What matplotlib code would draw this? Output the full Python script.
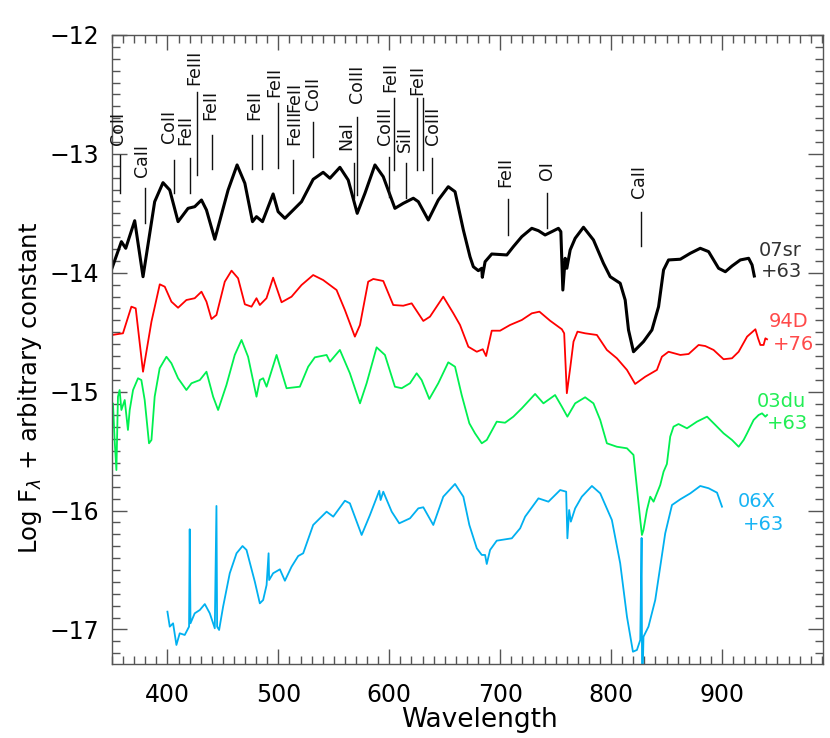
import matplotlib
matplotlib.use("Agg")
import matplotlib.pyplot as plt
from matplotlib.ticker import MultipleLocator

plt.rcParams['font.family'] = ['DejaVu Sans']
plt.rcParams['mathtext.fontset'] = 'dejavusans'

# ---------------- data ----------------
sn07sr_wl = [350.0, 358.5, 362.4, 370.5, 378.0, 388.5, 396.0, 402.1, 409.6, 418.6, 424.6, 430.7,
             435.2, 442.7, 454.7, 462.8, 469.8, 476.7, 480.3, 485.7, 495.3, 499.8, 505.9, 514.9,
             520.9, 531.4, 540.4, 546.5, 555.5, 563.0, 571.1, 578.1, 587.1, 594.6, 605.1, 612.6,
             621.7, 626.2, 635.2, 644.2, 653.2, 659.3, 666.8, 672.8, 675.8, 680.3, 683.4, 683.9,
             686.4, 692.4, 706.0, 711.9, 719.5, 728.5, 734.5, 740.5, 746.6, 752.5, 754.7, 756.5,
             758.6, 760.1, 763.1, 767.6, 775.1, 784.1, 793.1, 799.2, 808.2, 812.7, 815.7, 820.2,
             829.2, 836.8, 842.8, 847.3, 851.8, 862.4, 871.4, 880.4, 887.9, 896.9, 903.0, 909.0,
             916.5, 924.0, 927.1, 929.1]
sn07sr_flux = [-13.962, -13.738, -13.794, -13.562, -14.033, -13.402, -13.242, -13.304, -13.570,
               -13.458, -13.444, -13.388, -13.472, -13.718, -13.304, -13.093, -13.247, -13.570,
               -13.528, -13.570, -13.337, -13.486, -13.542, -13.458, -13.402, -13.214, -13.155,
               -13.205, -13.113, -13.220, -13.500, -13.331, -13.093, -13.192, -13.458, -13.416,
               -13.373, -13.402, -13.556, -13.388, -13.276, -13.318, -13.640, -13.865, -13.949,
               -13.982, -13.962, -14.038, -13.907, -13.842, -13.850, -13.780, -13.696, -13.626,
               -13.646, -13.682, -13.654, -13.626, -13.654, -14.145, -13.878, -13.962, -13.808,
               -13.710, -13.617, -13.724, -13.920, -14.033, -14.088, -14.229, -14.481, -14.664,
               -14.579, -14.481, -14.285, -13.976, -13.892, -13.886, -13.836, -13.794, -13.822,
               -13.962, -13.991, -13.943, -13.892, -13.878, -13.934, -14.027]

sn94D_wl = [350.0, 359.9, 367.5, 371.4, 378.0, 385.6, 393.1, 397.6, 403.6, 409.6, 417.1, 424.6,
            430.7, 435.2, 439.7, 444.2, 451.7, 457.8, 463.7, 469.8, 475.8, 480.3, 483.3, 489.3,
            495.3, 502.9, 511.9, 520.9, 531.4, 540.4, 552.5, 560.0, 569.0, 573.6, 581.0, 585.6,
            594.6, 603.6, 612.6, 620.2, 630.7, 636.7, 648.7, 657.8, 663.8, 671.3, 678.9, 684.3,
            687.3, 692.4, 699.9, 708.9, 719.5, 728.5, 735.4, 745.0, 755.6, 757.7, 760.1, 763.1,
            766.1, 769.7, 776.6, 787.2, 796.2, 805.2, 814.3, 821.7, 830.8, 841.3, 845.8, 851.8,
            862.4, 869.9, 878.9, 884.9, 892.4, 901.4, 909.0, 915.0, 922.6, 930.1, 932.5, 934.6,
            937.5, 939.1, 940.6]
sn94D_flux = [-14.523, -14.509, -14.285, -14.299, -14.832, -14.411, -14.097, -14.117, -14.243,
              -14.294, -14.229, -14.214, -14.159, -14.243, -14.389, -14.355, -14.075, -13.982,
              -14.046, -14.265, -14.285, -14.214, -14.271, -14.214, -14.041, -14.248, -14.201,
              -14.103, -14.019, -14.061, -14.145, -14.313, -14.537, -14.439, -14.075, -14.052,
              -14.069, -14.271, -14.277, -14.257, -14.405, -14.369, -14.201, -14.341, -14.439,
              -14.622, -14.664, -14.643, -14.700, -14.487, -14.487, -14.439, -14.397, -14.341,
              -14.327, -14.403, -14.475, -14.509, -15.013, -14.803, -14.579, -14.495, -14.509,
              -14.523, -14.649, -14.719, -14.817, -14.935, -14.874, -14.817, -14.706, -14.664,
              -14.691, -14.683, -14.607, -14.616, -14.649, -14.727, -14.719, -14.664, -14.537,
              -14.475, -14.551, -14.607, -14.607, -14.551, -14.559]

sn03du_wl = [350.0, 350.9, 352.4, 354.0, 355.4, 356.9, 358.5, 361.5, 364.4, 366.0, 369.0, 373.5,
             376.5, 379.5, 383.4, 385.6, 388.5, 393.0, 399.1, 403.6, 409.6, 417.1, 421.7, 429.2,
             435.2, 441.2, 445.7, 453.2, 460.7, 466.8, 472.7, 480.3, 483.3, 486.3, 489.4, 498.4,
             502.9, 507.4, 519.4, 526.9, 532.9, 543.5, 546.5, 555.5, 564.5, 573.6, 579.6, 588.6,
             596.1, 605.1, 611.2, 618.7, 624.7, 629.2, 636.1, 644.2, 653.2, 659.3, 665.3, 672.2,
             677.3, 683.4, 687.9, 696.9, 704.4, 711.9, 719.5, 731.5, 739.0, 749.5, 755.6, 760.6,
             767.6, 776.6, 784.1, 790.2, 796.2, 805.2, 814.3, 820.2, 823.3, 826.3, 827.8, 829.2,
             832.3, 835.3, 838.3, 841.3, 844.3, 847.3, 850.3, 853.3, 856.3, 860.8, 868.4, 877.4,
             886.5, 894.0, 901.4, 909.0, 915.0, 919.5, 922.6, 928.5, 933.0, 936.1, 939.1, 940.6]
sn03du_flux = [-15.112, -15.098, -15.406, -15.659, -15.042, -14.986, -15.154, -15.070, -15.322,
               -15.154, -14.986, -14.887, -14.902, -15.070, -15.434, -15.406, -15.042, -14.803,
               -14.706, -14.761, -14.887, -14.986, -14.929, -14.902, -14.832, -15.042, -15.154,
               -14.944, -14.691, -14.565, -14.706, -15.042, -14.902, -14.887, -14.958, -14.691,
               -14.832, -14.971, -14.958, -14.790, -14.711, -14.691, -14.748, -14.649, -14.845,
               -15.098, -14.929, -14.627, -14.691, -14.958, -14.971, -14.929, -14.845, -14.902,
               -15.061, -14.929, -14.753, -14.790, -15.028, -15.266, -15.350, -15.434, -15.406,
               -15.252, -15.261, -15.210, -15.140, -15.019, -15.098, -15.028, -15.126, -15.210,
               -15.098, -15.047, -15.098, -15.238, -15.434, -15.463, -15.476, -15.532, -15.810,
               -16.079, -16.205, -16.163, -15.995, -15.883, -15.925, -15.855, -15.785, -15.673,
               -15.608, -15.378, -15.294, -15.272, -15.308, -15.252, -15.210, -15.280, -15.350,
               -15.406, -15.463, -15.406, -15.350, -15.238, -15.196, -15.182, -15.210, -15.196]

sn06X_wl = [400.0, 402.1, 405.1, 408.1, 411.1, 415.6, 419.5, 420.1, 420.8, 424.6, 429.2, 433.7,
            438.2, 442.7, 444.2, 444.8, 446.6, 450.2, 456.2, 462.3, 467.7, 471.3, 478.8, 483.3,
            486.3, 489.4, 491.2, 491.7, 495.3, 501.4, 505.9, 511.9, 517.9, 522.4, 531.4, 543.5,
            549.5, 560.0, 564.5, 575.1, 582.6, 591.0, 592.2, 594.6, 602.2, 609.0, 618.7, 626.2,
            630.7, 639.7, 648.7, 659.3, 666.8, 672.2, 678.9, 683.4, 686.4, 687.9, 690.9, 696.9,
            710.5, 718.0, 722.5, 734.5, 743.5, 754.1, 759.5, 760.6, 762.2, 763.7, 767.6, 773.6,
            782.7, 790.2, 800.7, 808.2, 814.3, 819.7, 823.3, 826.3, 827.5, 828.0, 829.2, 833.7,
            839.8, 844.3, 848.8, 854.9, 862.4, 871.4, 880.4, 887.9, 895.5, 900.0]
sn06X_flux = [-16.850, -16.976, -16.948, -17.130, -17.032, -17.046, -16.976, -16.157, -16.948,
              -16.864, -16.836, -16.786, -16.864, -16.990, -15.961, -16.976, -17.004, -16.808,
              -16.527, -16.359, -16.298, -16.331, -16.598, -16.780, -16.752, -16.626, -16.359,
              -16.584, -16.527, -16.494, -16.590, -16.472, -16.382, -16.359, -16.121, -16.009,
              -16.051, -15.917, -15.939, -16.205, -16.037, -15.833, -15.911, -15.841, -16.009,
              -16.107, -16.065, -15.981, -15.972, -16.121, -15.883, -15.776, -15.883, -16.121,
              -16.317, -16.373, -16.373, -16.449, -16.331, -16.253, -16.233, -16.149, -16.051,
              -15.897, -15.925, -15.827, -15.841, -16.233, -15.995, -16.093, -15.981, -15.883,
              -15.793, -15.855, -16.079, -16.443, -16.892, -17.187, -17.172, -17.088, -16.230,
              -17.600, -17.061, -16.976, -16.752, -16.472, -16.191, -15.953, -15.905, -15.855,
              -15.793, -15.812, -15.849, -15.967]

# spectrum labels: name, epoch, anchor wavelength, name y, epoch y
spec_names = ["07sr", "94D", "03du", "06X"]
spec_epochs = ["+63", "+76", "+63", "+63"]
spec_label_x = [972.0, 978.0, 976.0, 948.0]
spec_epoch_x = [972.0, 983.0, 978.0, 956.0]
spec_name_y = [-13.81, -14.41, -15.08, -15.925]
spec_epoch_y = [-13.985, -14.607, -15.27, -16.12]

# line identifications
ann_labels = ["CoII", "CaII", "CoII", "FeII", "FeIII", "FeII", "FeII", "FeII", "FeIII", "FeII",
              "CoII", "NaI", "CoIII", "CoIII", "FeII", "SiII", "FeII", "CoIII", "FeII", "OI", "CaII"]
ann_text_x = [355.4, 377.4, 401.2, 416.5, 424.6, 438.2, 477.9, 495.9, 514.3, 514.3,
              531.4, 561.5, 570.6, 596.1, 600.6, 614.3, 625.0, 639.7, 704.4, 742.1, 825.6]
ann_text_y = [-12.925, -13.192, -12.908, -12.925, -12.421, -12.715, -12.715, -12.521, -12.925, -12.648,
              -12.631, -12.967, -12.572, -12.925, -12.479, -12.984, -12.505, -12.925, -13.278, -13.220, -13.371]
ann_line_x = [357.6, 379.5, 405.7, 420.8, 427.1, 440.6, 476.4, 485.7, 499.8, 512.8,
              531.4, 568.4, 570.8, 600.0, 604.2, 615.1, 624.7, 630.1, 638.3, 706.9, 742.6, 826.9]
ann_line_y0 = [-13.009, -13.287, -13.051, -13.034, -12.477, -12.841, -12.841, -12.841, -12.572, -13.051,
               -12.732, -13.077, -12.690, -13.026, -12.530, -13.077, -12.530, -12.530, -13.034, -13.379,
               -13.329, -13.489]
ann_line_y1 = [-13.329, -13.581, -13.329, -13.329, -13.177, -13.127, -13.127, -13.127, -13.119, -13.329,
               -13.026, -13.371, -13.346, -13.362, -13.135, -13.371, -13.135, -13.135, -13.329, -13.682,
               -13.623, -13.775]

x_ticks = [400, 500, 600, 700, 800, 900]
y_ticks = [-17, -16, -15, -14, -13, -12]

# ---------------- plot ----------------
fig = plt.figure(figsize=(8.3, 7.38), dpi=100)
ax = fig.add_axes([0.1349, 0.1003, 0.8566, 0.8523])

ax.plot(sn94D_wl, sn94D_flux, color='#ff0000', lw=1.3)
ax.plot(sn03du_wl, sn03du_flux, color='#00f050', lw=1.3)
ax.plot(sn06X_wl, sn06X_flux, color='#00b0f0', lw=1.3)
ax.plot(sn07sr_wl, sn07sr_flux, color='#000000', lw=2.2)

label_colors = ['#333333', '#ff4a4a', '#22ee55', '#18b4f4']
for i in range(4):
    ax.text(spec_label_x[i], spec_name_y[i], spec_names[i], color=label_colors[i],
            fontsize=14, ha='right', va='center')
    ax.text(spec_epoch_x[i], spec_epoch_y[i], spec_epochs[i], color=label_colors[i],
            fontsize=14, ha='right', va='center')

for lab, tx, ty in zip(ann_labels, ann_text_x, ann_text_y):
    ax.text(tx, ty, lab, rotation=90, ha='center', va='bottom', fontsize=12.5, color='#111111')
for lx, y0, y1 in zip(ann_line_x, ann_line_y0, ann_line_y1):
    ax.plot([lx, lx], [y0, y1], color='#111111', lw=1.0)

ax.set_xlim(350, 991)
ax.set_ylim(-17.29, -12.0)
ax.set_xticks(x_ticks)
ax.set_yticks(y_ticks)
ax.xaxis.set_minor_locator(MultipleLocator(10))
ax.yaxis.set_minor_locator(MultipleLocator(0.1))
ax.tick_params(which='both', direction='in', top=True, right=True, color='#555555', width=1.0)
ax.tick_params(which='major', length=11)
ax.tick_params(which='minor', length=6)
ax.tick_params(axis='x', which='major', pad=14, labelsize=17)
ax.tick_params(axis='y', which='major', pad=9, labelsize=17)
for sp in ax.spines.values():
    sp.set_color('#555555')
    sp.set_linewidth(1.0)

ax.set_xlabel('Wavelength', fontsize=19)
ax.xaxis.set_label_coords(0.5176, -0.069)
ax.set_ylabel(r'Log F$_\lambda$ + arbitrary constant', fontsize=17.5)
ax.yaxis.set_label_coords(-0.095, 0.439)

fig.savefig('out.png', dpi=100)
